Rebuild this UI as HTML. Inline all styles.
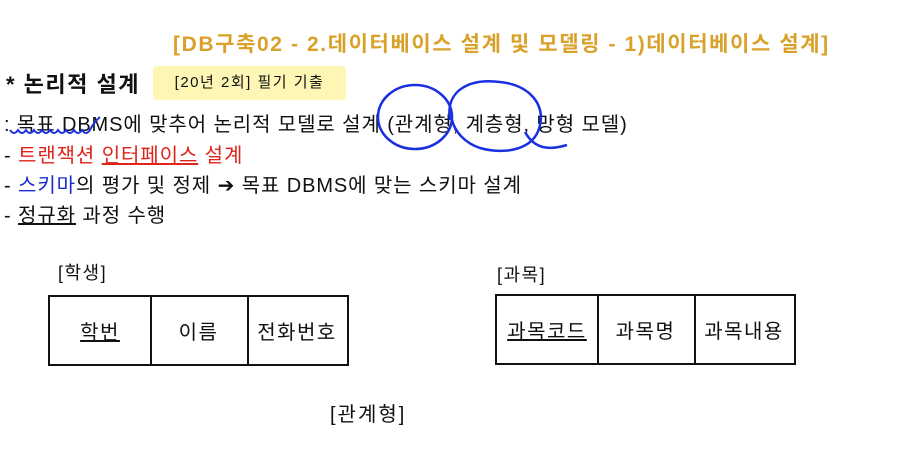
<!DOCTYPE html>
<html><head><meta charset="utf-8"><style>
body{margin:0;width:920px;height:452px;background:#fff;position:relative;overflow:hidden;font-family:"Liberation Sans","Noto Sans CJK KR",sans-serif;color:#111}
.a{position:absolute;white-space:nowrap}
.l{font-size:20px;letter-spacing:0.9px}
.cell{position:absolute;top:0;height:100%;display:flex;align-items:center;justify-content:center;font-size:20px;letter-spacing:1.5px;border-right:2px solid #111;box-sizing:border-box}
.tbl{position:absolute;border:2px solid #111;box-sizing:border-box;height:71px;width:301px}
</style></head><body>
<div class="a" style="left:173px;top:28px;font-size:21px;letter-spacing:1.6px;color:#d9a12a;font-weight:bold">[DB구축02 - 2.데이터베이스 설계 및 모델링 - 1)데이터베이스 설계]</div>
<div class="a" style="left:6px;top:67px;font-size:22px;letter-spacing:1.5px;font-weight:bold">* 논리적 설계</div>
<div class="a" style="left:153px;top:66px;width:193px;height:34px;background:#fdf6b4;border-radius:4px;font-size:15px;letter-spacing:1.5px;line-height:34px;text-align:center">[20년 2회] 필기 기출</div>
<div class="a l" style="left:4px;top:108px">: 목표 DBMS에 맞추어 논리적 모델로 설계 (관계형, 계층형, 망형 모델)</div>
<div class="a l" style="left:4px;top:139px">- <span style="color:#e0231b">트랜잭션 <u>인터페이스</u> 설계</span></div>
<div class="a l" style="left:4px;top:169px">- <span style="color:#1a2fd0">스키마</span>의 평가 및 정제 ➔ 목표 DBMS에 맞는 스키마 설계</div>
<div class="a l" style="left:4px;top:199px">- <u>정규화</u> 과정 수행</div>
<svg class="a" style="left:0;top:0" width="920" height="452">
<path d="M10 130 q4 6 8 0 q4 6 8 0 q4 6 8 0 q4 6 8 0 q4 6 8 0 q4 6 8 0 q4 6 8 0 q4 6 8 0 q4 6 8 0 q4 6 8 0 q4 -8 10 -13" fill="none" stroke="#1a2fe0" stroke-width="2"/>
<ellipse cx="415" cy="117" rx="37" ry="32" fill="none" stroke="#1a2fe0" stroke-width="2.5"/>
<path d="M450 120 C445 90 470 78 500 82 C530 85 545 105 540 125 C535 150 505 155 480 148 C465 143 455 132 452 120 M525 132 C535 150 550 150 567 145" fill="none" stroke="#1a2fe0" stroke-width="2.5"/>
</svg>
<div class="a" style="left:58px;top:259px;font-size:18px;letter-spacing:1.5px">[학생]</div>
<div class="tbl" style="left:48px;top:295px">
<div class="cell" style="left:0;width:102px"><u>학번</u></div>
<div class="cell" style="left:100px;width:99px">이름</div>
<div class="cell" style="left:197px;width:100px;border-right:none">전화번호</div>
</div>
<div class="a" style="left:497px;top:261px;font-size:18px;letter-spacing:1.5px">[과목]</div>
<div class="tbl" style="left:495px;top:294px">
<div class="cell" style="left:0;width:102px"><u>과목코드</u></div>
<div class="cell" style="left:100px;width:99px">과목명</div>
<div class="cell" style="left:197px;width:100px;border-right:none">과목내용</div>
</div>
<div class="a" style="left:330px;top:398px;font-size:20px;letter-spacing:2px">[관계형]</div>
</body></html>
